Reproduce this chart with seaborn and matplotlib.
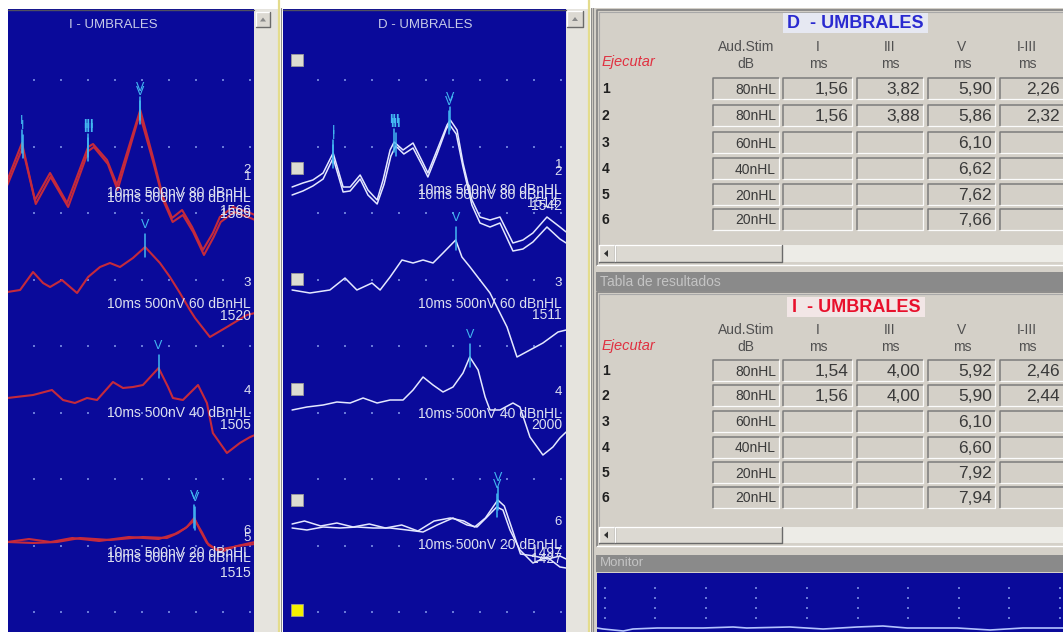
import numpy as np
import matplotlib
matplotlib.use("Agg")
import matplotlib.pyplot as plt
from matplotlib.patches import Rectangle, Polygon
import seaborn as sns

sns.set_theme(style="white")
plt.rcParams["font.family"] = ["Liberation Sans", "DejaVu Sans"]

W, H = 1063, 632

# ---------------- latency tables (ms) ----------------
ROWS = ["1", "2", "3", "4", "5", "6"]
STIM = ["80nHL", "80nHL", "60nHL", "40nHL", "20nHL", "20nHL"]
D_I = ["1,56", "1,56", "", "", "", ""]
D_III = ["3,82", "3,88", "", "", "", ""]
D_V = ["5,90", "5,86", "6,10", "6,62", "7,62", "7,66"]
D_I_III = ["2,26", "2,32", "", "", "", ""]
I_I = ["1,54", "1,56", "", "", "", ""]
I_III = ["4,00", "4,00", "", "", "", ""]
I_V = ["5,92", "5,90", "6,10", "6,60", "7,92", "7,94"]
I_I_III = ["2,46", "2,44", "", "", "", ""]

# ---------------- waveforms: time (ms) / amplitude (display units, up +) ----------------
# left ear (I - UMBRALES)
L1_T = [1.0, 1.54, 2.02, 2.58, 3.21, 3.99, 4.17, 4.69, 5.06, 5.92, 6.39, 6.76, 7.10, 7.47, 7.84, 8.24, 8.61, 8.87, 9.36, 9.99, 10.17]
L1_A = [0, 37, -20, 7, -23, 33, 36, 20, -5, 70, 23, -17, -38, -30, -47, -70, -53, -37, -27, -33, -35]
L2_T = [1.0, 1.56, 2.05, 2.60, 3.25, 4.00, 4.20, 4.72, 5.08, 5.90, 6.40, 6.78, 7.12, 7.50, 7.88, 8.28, 8.64, 8.90, 9.40, 10.0, 10.17]
L2_A = [-3, 34, -22, 5, -25, 31, 35, 18, -8, 68, 20, -19, -40, -33, -50, -73, -55, -40, -30, -36, -38]
L3_T = [1.0, 1.47, 1.95, 2.32, 2.58, 3.02, 3.58, 3.99, 4.43, 4.80, 5.17, 5.65, 6.10, 6.65, 7.02, 7.39, 7.76, 7.95, 8.50, 9.13, 9.87, 10.17]
L3_A = [0, 2, 20, 9, 5, 12, -1, 15, 25, 29, 25, 34, 45, 29, 15, -1, -18, -26, -45, -35, -23, -21]
L4_T = [1.0, 1.95, 2.65, 3.06, 3.50, 3.95, 4.32, 4.91, 5.28, 5.65, 6.02, 6.60, 6.95, 7.13, 7.50, 8.06, 8.39, 8.61, 9.13, 9.61, 9.99, 10.17]
L4_A = [0, 3, 8, -2, -5, 0, -2, 16, 10, 11, 13, 30, 11, 0, -2, 13, -5, -35, -55, -45, -39, -37]
L5_T = [1.0, 1.95, 2.84, 3.69, 4.80, 6.02, 6.91, 7.32, 7.65, 7.92, 8.13, 8.39, 8.76, 9.36, 9.99, 10.17]
L5_A = [0, -1, 0, 4, 2, 5, 4, 9, 15, 24, 12, -1, -8, -5, -1, 0]
L6_T = [1.0, 1.80, 2.60, 3.40, 4.40, 5.50, 6.60, 7.20, 7.60, 7.94, 8.20, 8.45, 8.90, 9.50, 10.17]
L6_A = [-2, 1, -2, 2, -1, 3, 1, 6, 12, 20, 8, -5, -12, -6, -4]

# right ear (D - UMBRALES)
M1_T = [0.04, 0.44, 0.81, 1.19, 1.56, 1.93, 2.19, 2.56, 2.85, 3.19, 3.41, 3.67, 3.82, 4.15, 4.52, 4.89, 5.07, 5.41, 5.78, 5.90, 6.15, 6.37, 6.70, 7.00, 7.37, 7.74, 8.22, 8.59, 8.96, 9.48, 9.96, 10.19]
M1_A = [0, 4, 7, 14, 34, 0, 0, 12, -3, -13, 7, 37, 45, 37, 44, 24, 14, 37, 62, 67, 57, 24, -13, -30, -33, -30, -56, -53, -46, -30, -40, -45]
M2_T = [0.04, 0.44, 0.81, 1.19, 1.56, 1.93, 2.19, 2.56, 2.85, 3.19, 3.45, 3.70, 3.88, 4.18, 4.52, 4.89, 5.07, 5.41, 5.75, 5.86, 6.12, 6.37, 6.70, 7.00, 7.37, 7.74, 8.22, 8.59, 8.96, 9.48, 9.96, 10.19]
M2_A = [-6, -2, 3, 10, 31, -3, -2, 10, -6, -15, 5, 33, 43, 35, 41, 22, 12, 35, 60, 65, 55, 22, -16, -34, -38, -34, -62, -60, -53, -38, -50, -54]
M3_T = [0.04, 0.70, 1.44, 2.00, 2.44, 3.00, 3.30, 3.67, 4.11, 4.52, 4.89, 5.26, 5.63, 6.10, 6.33, 6.63, 7.00, 7.37, 7.74, 8.00, 8.37, 8.85, 9.33, 9.89, 10.19]
M3_A = [0, -3, 0, 12, 0, 7, 0, 13, 30, 27, 30, 27, 37, 50, 33, 23, 10, -3, -23, -37, -67, -60, -53, -42, -40]
M4_T = [0.04, 0.59, 1.19, 1.70, 2.19, 2.67, 3.19, 3.67, 4.15, 4.52, 4.89, 5.26, 5.63, 6.00, 6.37, 6.62, 6.93, 7.19, 7.37, 7.74, 8.22, 8.48, 8.85, 9.33, 9.70, 9.96, 10.19]
M4_A = [0, 3, 5, 8, 7, 12, 7, 10, 10, 20, 33, 25, 18, 23, 37, 53, 40, 13, 0, 0, 7, 3, -27, -45, -37, -28, -22]
M5_T = [0.04, 0.59, 1.19, 1.81, 2.44, 3.04, 3.67, 4.30, 4.89, 5.41, 6.00, 6.52, 6.89, 7.26, 7.62, 7.85, 8.11, 8.48, 8.96, 9.48, 9.96, 10.19]
M5_A = [0, -2, 1, 0, 1, 0, 0, -2, -4, 3, 10, 3, 1, 11, 21, 18, -2, -22, -35, -29, -39, -40]
M6_T = [0.04, 0.50, 1.10, 1.70, 2.30, 2.90, 3.50, 4.10, 4.70, 5.30, 5.90, 6.40, 6.80, 7.20, 7.66, 7.90, 8.15, 8.50, 9.00, 9.50, 9.96, 10.19]
M6_A = [2, 5, 0, 3, -1, 2, -2, 1, -5, 5, 8, 5, -1, 8, 26, 20, 0, -28, -30, -33, -30, -33]

# monitor strip (divisions / display units)
MON_T = [-0.15, -0.03, 0.37, 0.56, 1.04, 1.95, 2.54, 2.81, 3.66, 4.32, 4.99, 5.50, 5.98, 6.97, 7.62, 8.27, 9.06]
MON_A = [0, -1, -3, -1, 0, 0, 1, 0, 1, -1, 1, 2, 0, 0, -2, 0, 0]

# labels beside the traces
L_LEVEL = ["80", "80", "60", "40", "20", "20"]
L_SWEEPS = ["1566", "1585", "1520", "1505", "", "1515"]
M_SWEEPS = ["1514", "1542", "1511", "2000", "1427", "1497"]

# ---------------- colours ----------------
BLUE = "#0a0a9a"
GREY = "#d4d0c8"
RED = "#c52a3c"
WHITE_TR = "#e4e8ff"
CYAN = "#43b8f2"
DOT = "#6878d8"
TXT = "#dde0f0"

fig = plt.figure(figsize=(W / 100, H / 100), dpi=100)
fig.patch.set_facecolor("white")

bg = fig.add_axes([0, 0, 1, 1])
bg.set_xlim(0, W)
bg.set_ylim(H, 0)
bg.axis("off")


def rect(ax, x0, y0, x1, y1, fc, ec="none", lw=0, z=1):
    ax.add_patch(Rectangle((x0, y0), x1 - x0, y1 - y0, facecolor=fc, edgecolor=ec, lw=lw, zorder=z))


def sunken(ax, x0, y0, x1, y1, fc=GREY, z=2):
    rect(ax, x0, y0, x1, y1, fc, z=z)
    ax.plot([x0, x0, x1], [y1, y0, y0], color="#7c7c7c", lw=1.1, zorder=z + 0.1, solid_capstyle="butt")
    ax.plot([x0, x1, x1], [y1, y1, y0], color="#fbfbfb", lw=0.9, zorder=z + 0.1, solid_capstyle="butt")


def raised(ax, x0, y0, x1, y1, fc="#dcd9d2", z=3):
    rect(ax, x0, y0, x1, y1, fc, z=z)
    ax.plot([x0, x0, x1], [y1, y0, y0], color="#ffffff", lw=0.9, zorder=z + 0.1)
    ax.plot([x0, x1, x1], [y1, y1, y0], color="#6a6a6a", lw=1.0, zorder=z + 0.1)


# ---------------- window chrome ----------------
rect(bg, 8, 9, 254, H, BLUE)
rect(bg, 283, 9, 566, H, BLUE)
bg.plot([8, 254], [9.5, 9.5], color="#505060", lw=1)
bg.plot([283, 566], [9.5, 9.5], color="#505060", lw=1)
rect(bg, 254, 9, 278, H, "#e6e4de")
rect(bg, 566, 9, 588, H, "#e6e4de")
for xs in (279, 589):
    bg.plot([xs, xs], [0, H], color="#e4dc8c", lw=1.6)
    bg.plot([xs + 2.2, xs + 2.2], [8, H], color="#8c8c8c", lw=0.8)
for (bx0, by0, bx1, by1) in [(256, 12, 270, 27), (567, 11, 583, 27)]:
    raised(bg, bx0, by0, bx1, by1)
    cx, cy = (bx0 + bx1) / 2, (by0 + by1) / 2
    bg.add_patch(Polygon([[cx - 3, cy + 2], [cx + 3, cy + 2], [cx, cy - 2]], closed=True,
                         facecolor="#8a8a8a", edgecolor="none", zorder=5))

# right-hand side panels
rect(bg, 591, 8, W, H, GREY)
bg.plot([592.5, 592.5], [8, H], color="#8a8a8a", lw=0.8)


def result_table(y_top, y_bot, title, tcol, tbg, box, head_y, ej_y, row_y, vals, scr_y):
    bg.plot([597, 597, W], [y_bot, y_top, y_top], color="#808080", lw=1.2, zorder=2)
    bg.plot([599, 599, W], [y_bot - 2, y_top + 2, y_top + 2], color="#a8a8a8", lw=0.8, zorder=2)
    bg.plot([597, W], [y_bot, y_bot], color="#ffffff", lw=1.0, zorder=2)
    bx0, by0, bx1, by1 = box
    rect(bg, bx0, by0, bx1, by1, tbg, z=3)
    bg.text((bx0 + bx1) / 2, (by0 + by1) / 2 + 0.5, title, color=tcol, fontsize=13, fontweight="bold",
            ha="center", va="center", zorder=4)
    heads = [("Aud.Stim", "dB", 746), ("I", "ms", 818), ("III", "ms", 890), ("V", "ms", 962), ("I-III", "ms", 1027)]
    for h1, h2, hx in heads:
        bg.text(hx, head_y, h1, color="#505050", fontsize=10, ha="center", va="center", zorder=4)
        bg.text(hx, head_y + 17, h2, color="#505050", fontsize=10, ha="center", va="center", zorder=4)
    bg.text(602, ej_y, "Ejecutar", color="#e03040", fontsize=10.5, style="italic", ha="left", va="center", zorder=4)
    cells = [(713, 779), (783, 852), (857, 923), (928, 995), (1000, 1063)]
    for r, yc in enumerate(row_y):
        bg.text(602, yc, ROWS[r], color="#202020", fontsize=10, fontweight="bold", ha="left", va="center", zorder=4)
        for c, (x0, x1) in enumerate(cells):
            sunken(bg, x0, yc - 11, x1 + (8 if c == 4 else 0), yc + 10)
            v = vals[c][r]
            if v:
                fs = 10 if c == 0 else 12.5
                bg.text(x1 - 3, yc + 0.5, v, color="#3a3a3a", fontsize=fs, ha="right", va="center", zorder=4)
    # horizontal scrollbar
    rect(bg, 599, scr_y[0], W, scr_y[1], "#edece7", z=2)
    raised(bg, 599, scr_y[0], 615, scr_y[1])
    raised(bg, 615, scr_y[0], 782, scr_y[1])
    cy = (scr_y[0] + scr_y[1]) / 2
    bg.add_patch(Polygon([[604, cy], [608, cy - 3.5], [608, cy + 3.5]], closed=True,
                         facecolor="#303030", edgecolor="none", zorder=5))


result_table(10, 265, "D  - UMBRALES", "#2a2ad0", "#e6e8f2", (783, 13, 928, 33), 47, 62,
             [89, 116, 143, 169, 195, 220], [STIM, D_I, D_III, D_V, D_I_III], (245, 262))

rect(bg, 596, 272, W, 291, "#8a8a8a", z=2)
bg.text(600, 282, "Tabla de resultados", color="#c4c4c4", fontsize=10, ha="left", va="center", zorder=3)

result_table(292, 546, "I  - UMBRALES", "#e8102c", "#f2e6e6", (787, 297, 925, 317), 330, 346,
             [371, 396, 422, 448, 473, 498], [STIM, I_I, I_III, I_V, I_I_III], (527, 543))

rect(bg, 596, 555, W, 572, "#8a8a8a", z=2)
bg.text(600, 563.5, "Monitor", color="#c4c4c4", fontsize=9.5, ha="left", va="center", zorder=3)
rect(bg, 597, 573, W, H, BLUE, z=2)

# ---------------- waveform panels ----------------
axL = fig.add_axes([8 / W, 0, (254 - 8) / W, (H - 10) / H])
axL.set_xlim((8 + 19.6) / 27, (254 + 19.6) / 27)
axM = fig.add_axes([283 / W, 0, (566 - 283) / W, (H - 10) / H])
axM.set_xlim((283 - 291) / 27, (566 - 291) / 27)
for ax in (axL, axM):
    ax.set_ylim(H, 10)
    ax.axis("off")

DOT_ROWS = [80 + 66.5 * k for k in range(9)]
for ax, cols in ((axL, range(1, 11)), (axM, range(1, 11))):
    gx = [c for c in cols for _ in DOT_ROWS]
    gy = [r for _ in cols for r in DOT_ROWS]
    ax.scatter(gx, gy, s=2.2, marker="s", color=DOT, lw=0, zorder=1)

L_TRACES = [(L1_T, L1_A), (L2_T, L2_A), (L3_T, L3_A), (L4_T, L4_A), (L5_T, L5_A), (L6_T, L6_A)]
M_TRACES = [(M1_T, M1_A), (M2_T, M2_A), (M3_T, M3_A), (M4_T, M4_A), (M5_T, M5_A), (M6_T, M6_A)]
L_BASE = [180, 182, 292, 398, 542, 540]
M_BASE = [187, 189, 290, 410, 528, 526]


def to_ms(s):
    return float(s.replace(",", "."))


def draw_panel(ax, traces, bases, color, lw, lat_cols):
    for i, ((t, a), b) in enumerate(zip(traces, bases)):
        y = b - np.asarray(a, dtype=float)
        sns.lineplot(x=np.asarray(t), y=y, ax=ax, color=color, lw=lw, estimator=None,
                     sort=False, legend=False, zorder=3)
        for name, col in zip(["I", "III", "V"], lat_cols):
            if col[i]:
                lat = to_ms(col[i])
                yp = b - np.interp(lat, t, a)
                ax.plot([lat, lat], [yp - 13, yp + 10], color=CYAN, lw=1.1, zorder=4)
                ax.text(lat, yp - 22, name, color=CYAN, fontsize=9, fontweight="bold" if name == "III" else "normal",
                        ha="center", va="center", zorder=5)


draw_panel(axL, L_TRACES, L_BASE, RED, 1.5, [I_I, I_III, I_V])
draw_panel(axM, M_TRACES, M_BASE, WHITE_TR, 1.1, [D_I, D_III, D_V])

# monitor
axMon = fig.add_axes([597 / W, 0, (W - 597) / W, (H - 573) / H])
axMon.set_xlim(-0.15, 9.06)
axMon.set_ylim(H, 573)
axMon.axis("off")
mx = [c for c in range(0, 10) for _ in range(4)]
my = [588 + 10 * k for _ in range(0, 10) for k in range(4)]
axMon.scatter(mx, my, s=2.2, marker="s", color=DOT, lw=0)
sns.lineplot(x=np.asarray(MON_T), y=628 - np.asarray(MON_A, dtype=float), ax=axMon,
             color="#b4c4ff", lw=1.2, estimator=None, sort=False, legend=False)

# ---------------- overlay texts ----------------
top = fig.add_axes([0, 0, 1, 1])
top.set_xlim(0, W)
top.set_ylim(H, 0)
top.axis("off")
top.patch.set_alpha(0)

top.text(113, 25, "I - UMBRALES", color="#c8cce8", fontsize=9.5, ha="center", va="center")
top.text(425, 25, "D - UMBRALES", color="#c8cce8", fontsize=9.5, ha="center", va="center")

# selection squares of the right-ear panel
for k, yc in enumerate([60, 168, 279, 389, 500, 610]):
    fc = "#f4f000" if k == 5 else "#dcdcd2"
    top.add_patch(Rectangle((291, yc - 6), 12, 12, facecolor=fc, edgecolor="#9a9a9a", lw=0.6))


def side_labels(xr, nums, params, sweeps):
    for txt, y in nums:
        top.text(xr, y, txt, color=TXT, fontsize=9.5, ha="right", va="center")
    for lvl, y in params:
        top.text(xr, y, f"10ms 500nV {lvl} dBnHL", color=TXT, fontsize=10, ha="right", va="center")
    for s, y, dx in sweeps:
        top.text(xr + dx, y, s, color=TXT, fontsize=10, ha="right", va="center")


side_labels(251,
            [("2", 170), ("1", 177), ("3", 283), ("4", 391), ("6", 531), ("5", 538)],
            [(L_LEVEL[0], 193), (L_LEVEL[1], 198), (L_LEVEL[2], 304), (L_LEVEL[3], 413),
             (L_LEVEL[4], 553), (L_LEVEL[5], 558)],
            [(L_SWEEPS[0], 211, 0), (L_SWEEPS[1], 214, 0), (L_SWEEPS[2], 316, 0),
             (L_SWEEPS[3], 425, 0), (L_SWEEPS[5], 573, 0)])
side_labels(562,
            [("1", 165), ("2", 172), ("3", 283), ("4", 392), ("6", 522)],
            [(L_LEVEL[0], 190), (L_LEVEL[1], 195), (L_LEVEL[2], 304), (L_LEVEL[3], 414),
             (L_LEVEL[4], 545)],
            [(M_SWEEPS[0], 203, -4), (M_SWEEPS[1], 206, 0), (M_SWEEPS[2], 315, 0),
             (M_SWEEPS[3], 425, 0), (M_SWEEPS[5], 553, 0), (M_SWEEPS[4], 559, 0)])

fig.savefig("out.png", dpi=100)
